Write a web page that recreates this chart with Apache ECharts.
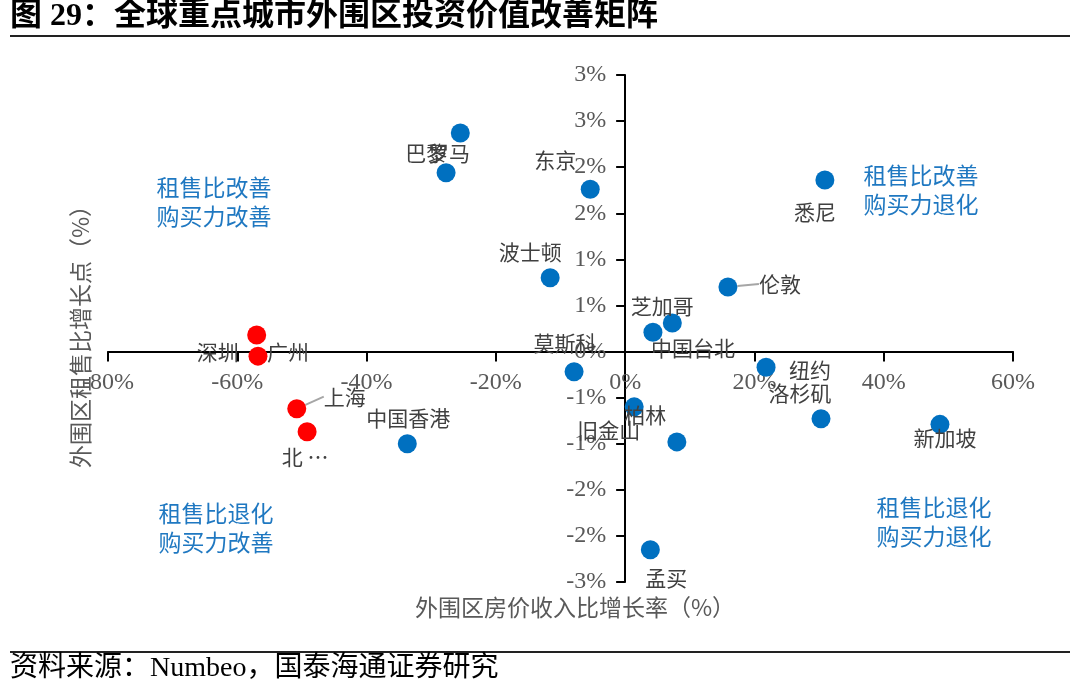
<!DOCTYPE html>
<html>
<head>
<meta charset="utf-8">
<script src="https://cdn.jsdelivr.net/npm/echarts@6/dist/echarts.min.js"></script>
<style>
html, body { margin: 0; padding: 0; background: #fff; }
#main { width: 1080px; height: 697px; }
</style>
</head>
<body>
<div id="main"></div>
<script>
// 外围区房价收入比增长率 (x, %) / 外围区租售比增长点 (y, %)
var blueCities = ['巴黎', '罗马', '东京', '悉尼', '波士顿', '伦敦', '芝加哥', '中国台北', '莫斯科', '纽约', '洛杉矶', '新加坡', '柏林', '旧金山', '孟买', '中国香港'];
var blueX = [-25.5, -27.7, -5.4, 30.9, -11.6, 15.9, 7.3, 4.3, -7.9, 21.8, 30.3, 48.7, 1.4, 8.0, 3.9, -33.7];
var blueY = [2.37, 1.94, 1.76, 1.86, 0.80, 0.70, 0.31, 0.21, -0.22, -0.17, -0.73, -0.79, -0.60, -0.98, -2.15, -1.00];

var redCities = ['深圳', '广州', '上海', '北京'];
var redX = [-57.0, -56.8, -50.8, -49.2];
var redY = [0.18, -0.05, -0.62, -0.87];

var quadrantText = [
    ['租售比改善', '购买力改善'],
    ['租售比改善', '购买力退化'],
    ['租售比退化', '购买力改善'],
    ['租售比退化', '购买力退化']
];

// label placement (pixel offset of label centre from the point)
var labelOffset = {
    '巴黎': [-34, 20], '罗马': [3, -20], '东京': [-35, -29], '悉尼': [-10, 32],
    '波士顿': [-20, -26], '伦敦': [52, -3], '芝加哥': [-10, -17], '中国台北': [40, 16],
    '莫斯科': [-9, -29], '纽约': [44, 3], '洛杉矶': [-21, -26], '新加坡': [5, 14],
    '柏林': [11, 8], '旧金山': [-68, -12], '孟买': [16, 28], '中国香港': [1, -26],
    '深圳': [-39, 17], '广州': [30, -4], '上海': [48, -12], '北京': [-2, 25]
};
var leaderLine = ['伦敦', '上海'];
var labelText = { '北京': '北 …' };

function buildData(names, xs, ys) {
    return names.map(function (n, i) {
        var item = { name: n, value: [xs[i], ys[i]] };
        if (leaderLine.indexOf(n) >= 0) {
            item.labelLine = { show: true, lineStyle: { color: '#a6a6a6', width: 2 } };
        }
        return item;
    });
}

var cjk = "'Noto Sans CJK SC'";
var serif = "'Liberation Serif', 'Noto Sans CJK SC'";

var chartDom = document.getElementById('main');
var myChart = echarts.init(chartDom);
var option;

var pointLabel = {
    show: true,
    position: 'inside',
    color: '#404040',
    fontSize: 21,
    fontFamily: cjk,
    formatter: function (p) { return labelText[p.name] || p.name; }
};

function layoutFn(series) {
    return function (params) {
        var names = series === 0 ? blueCities : redCities;
        var off = labelOffset[names[params.dataIndex]] || [0, 0];
        return { dx: off[0], dy: off[1], hideOverlap: false };
    };
}

var qx = [214, 921, 216, 934];
var qy = [187, 175, 513, 507];

var graphics = [
    { type: 'text', left: 10, top: 1, style: { text: '图 29：全球重点城市外围区投资价值改善矩阵', font: 'bold 32px ' + serif, fill: '#000' } },
    { type: 'rect', shape: { x: 10, y: 35, width: 1060, height: 2 }, style: { fill: '#222' } },
    { type: 'rect', shape: { x: 10, y: 651, width: 1060, height: 2 }, style: { fill: '#222' } },
    { type: 'text', left: 10, top: 655, style: { text: '资料来源：Numbeo，国泰海通证券研究', font: '28px ' + serif, fill: '#000' } },
    { type: 'text', x: 575, y: 607, style: { text: '外围区房价收入比增长率（%）', font: '23px ' + cjk, fill: '#595959', align: 'center', verticalAlign: 'middle' } },
    { type: 'text', x: 80, y: 331, rotation: Math.PI / 2, style: { text: '外围区租售比增长点（%）', font: '23px ' + cjk, fill: '#595959', align: 'center', verticalAlign: 'middle' } }
];
quadrantText.forEach(function (lines, i) {
    graphics.push({
        type: 'text', x: qx[i], y: qy[i] - 14,
        style: { text: lines.join('\n'), font: '23px ' + cjk, fill: '#1f78c1', align: 'center', verticalAlign: 'top', lineHeight: 29 }
    });
});

option = {
    animation: false,
    backgroundColor: '#fff',
    grid: { left: 108, right: 67, top: 75, bottom: 115 },
    xAxis: {
        type: 'value',
        min: -80,
        max: 60,
        interval: 20,
        axisLine: { onZero: false, lineStyle: { color: '#000', width: 2 } },
        axisTick: { show: true, length: 10, lineStyle: { color: '#000', width: 2 } },
        axisLabel: {
            margin: 19, color: '#595959', fontSize: 24, fontFamily: serif,
            formatter: function (v) { return v + '%'; }
        },
        splitLine: { show: false }
    },
    yAxis: {
        type: 'value',
        min: -2.5,
        max: 3,
        interval: 0.5,
        axisLine: { show: true, onZero: false, lineStyle: { color: '#000', width: 2 } },
        axisTick: { show: true, length: 9, lineStyle: { color: '#000', width: 2 } },
        axisLabel: {
            margin: 19, color: '#595959', fontSize: 24, fontFamily: serif,
            formatter: function (v) { return (Math.sign(v) * Math.round(Math.abs(v))) + '%'; }
        },
        splitLine: { show: false }
    },
    graphic: graphics,
    series: [
        {
            type: 'scatter',
            symbolSize: 19,
            itemStyle: { color: '#0070c0', opacity: 1 },
            data: buildData(blueCities, blueX, blueY),
            label: pointLabel,
            labelLayout: layoutFn(0),
            z: 3
        },
        {
            type: 'scatter',
            symbolSize: 19,
            itemStyle: { color: '#ff0000', opacity: 1 },
            data: buildData(redCities, redX, redY),
            label: pointLabel,
            labelLayout: layoutFn(1),
            z: 3
        }
    ]
};

option && myChart.setOption(option);

// move both axes (line, ticks and labels) onto the zero lines
var origin = myChart.convertToPixel({ gridIndex: 0 }, [0, 0]);
var corner = myChart.convertToPixel({ gridIndex: 0 }, [option.xAxis.min, option.yAxis.min]);
myChart.setOption({
    xAxis: { offset: -(corner[1] - origin[1]) },
    yAxis: { offset: -(origin[0] - corner[0]) }
});
</script>
</body>
</html>
